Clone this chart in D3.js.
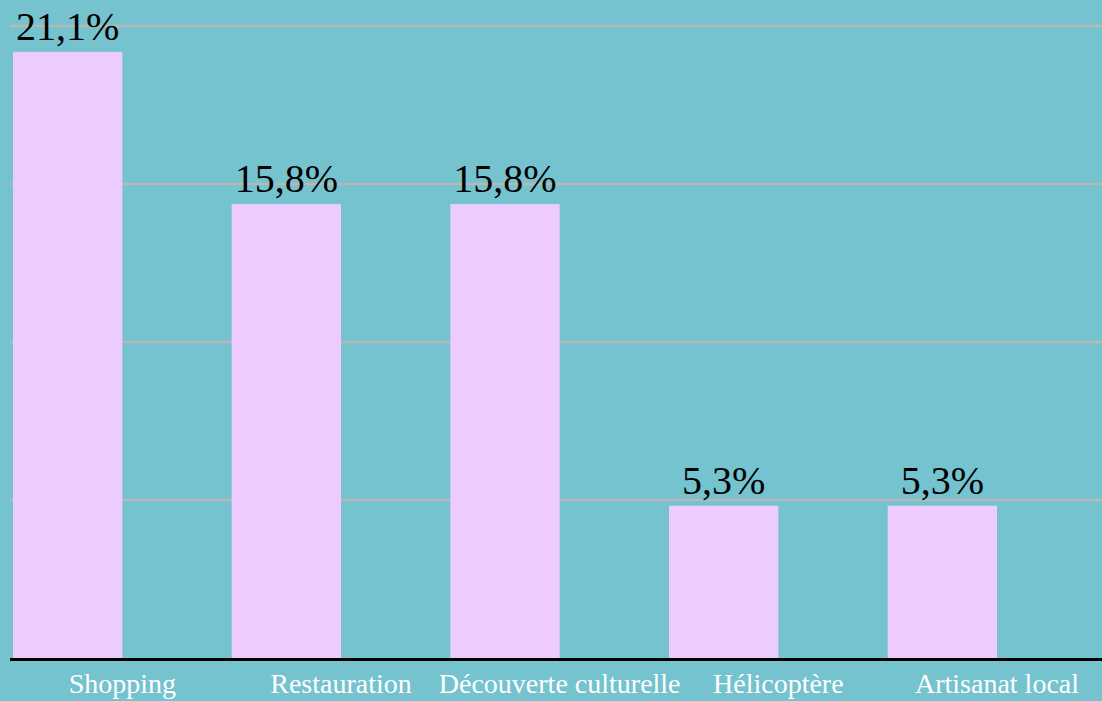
<!DOCTYPE html>
<html lang="fr">
  <head>
    <meta charset="utf-8">
    <title>Activites</title>
    <script src="https://d3js.org/d3.v7.js"></script>
    <style>
      body { margin: 0; background: #74c3cf; }
    </style>
  </head>

  <body>
  <script>

  // data
  var categories = ["Shopping", "Restauration", "Découverte culturelle", "Hélicoptère", "Artisanat local"];
  var values = [21.1, 15.8, 15.8, 5.3, 5.3];
  var valueLabels = ["21,1%", "15,8%", "15,8%", "5,3%", "5,3%"];
  var gridValues = [5.5, 11, 16.5, 22];

  var w = 1102;
  var h = 701;
  var base = 658;
  var serif = "'Liberation Serif', 'Times New Roman', Times, serif";

  var xScale = d3.scaleBand()
      .domain(categories)
      .range([13, 997])
      .paddingInner(0.5)
      .paddingOuter(0);

  var yScale = d3.scaleLinear()
      .domain([0, 22])
      .range([base, 26]);

  var svg = d3.select("body")
    .append("svg")
      .attr("width", w)
      .attr("height", h);

  svg.append("rect")
      .attr("width", w)
      .attr("height", h)
      .attr("fill", "#74c3cf");

  // gridlines
  svg.append("g")
    .selectAll("line")
      .data(gridValues)
    .enter().append("line")
      .attr("x1", 10)
      .attr("x2", w)
      .attr("y1", d => yScale(d))
      .attr("y2", d => yScale(d))
      .attr("stroke", "#b8b8b8")
      .attr("stroke-width", 2.5);

  // bars
  svg.append("g")
    .selectAll("rect")
      .data(values)
    .enter().append("rect")
      .attr("x", (d, i) => xScale(categories[i]))
      .attr("y", d => yScale(d))
      .attr("width", xScale.bandwidth())
      .attr("height", d => base - yScale(d))
      .attr("fill", "#eecbfe");

  // value labels
  svg.append("g")
    .selectAll("text")
      .data(values)
    .enter().append("text")
      .attr("x", (d, i) => xScale(categories[i]) + xScale.bandwidth() / 2)
      .attr("y", d => yScale(d) - 12)
      .attr("text-anchor", "middle")
      .attr("font-family", serif)
      .attr("font-size", 40)
      .attr("fill", "#000")
      .text((d, i) => valueLabels[i]);

  // x axis line
  svg.append("line")
      .attr("x1", 10)
      .attr("x2", w)
      .attr("y1", base + 1.5)
      .attr("y2", base + 1.5)
      .attr("stroke", "#000")
      .attr("stroke-width", 3);

  // category labels (centred on step, not band)
  svg.append("g")
    .selectAll("text")
      .data(categories)
    .enter().append("text")
      .attr("x", d => xScale(d) + xScale.step() / 2)
      .attr("y", 693)
      .attr("text-anchor", "middle")
      .attr("font-family", serif)
      .attr("font-size", 28)
      .attr("fill", "#fff")
      .text(d => d);

  </script>
  </body>
</html>
